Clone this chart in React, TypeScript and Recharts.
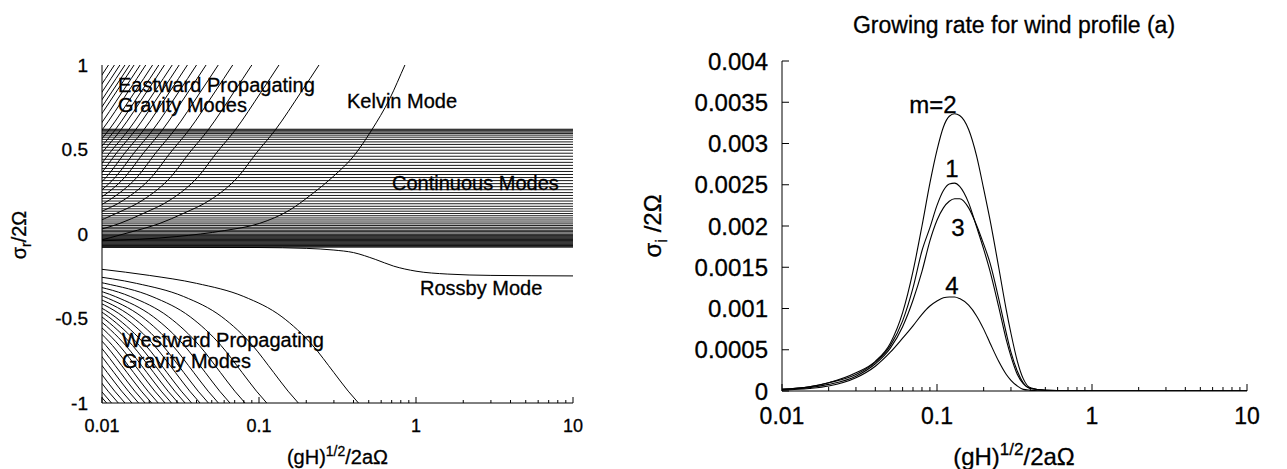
import React from 'react';
import { LineChart, Line, XAxis, YAxis } from 'recharts';

const FONT = "'Liberation Sans', Arial, Helvetica, sans-serif";

// ---------- shared log x axis ----------
const LOG_TICKS = [0.01, 0.02, 0.03, 0.04, 0.05, 0.06, 0.07, 0.08, 0.09, 0.1, 0.2, 0.3, 0.4, 0.5, 0.6, 0.7, 0.8, 0.9, 1, 2, 3, 4, 5, 6, 7, 8, 9, 10];
const LOG_MAJOR = [0.01, 0.1, 1, 10];
const LOG_LABELS = ['0.01', '0.1', '1', '10'];

// ---------- left panel: dispersion diagram ----------
const LEFT_Y_TICKS = [-1, -0.5, 0, 0.5, 1];
const LEFT_Y_LABELS = ['-1', '-0.5', '0', '0.5', '1'];

// continuous spectrum (horizontal lines), sigma_r/2Omega
const CONTINUOUS_SIGMA = [
  0.62, 0.615, 0.61, 0.603, 0.595, 0.585, 0.573, 0.56, 0.545, 0.53, 0.513, 0.496, 0.478, 0.46,
  0.442, 0.424, 0.406, 0.388, 0.37, 0.352, 0.334, 0.316, 0.298, 0.28, 0.262, 0.245, 0.228, 0.211,
  0.195, 0.179, 0.164, 0.149, 0.135, 0.121, 0.108, 0.095, 0.083, 0.071, 0.06, 0.05, 0.04, 0.031,
  0.022, 0.014, 0.006, -0.002, -0.008, -0.013, -0.018, -0.023, -0.028, -0.033, -0.038, -0.043,
  -0.048, -0.053, -0.058, -0.063, -0.068, -0.073, -0.078,
];

// eastward gravity modes: x where each curve reaches sigma = 1
const EAST_TOP_X = [0.241, 0.134, 0.09, 0.068, 0.055, 0.046, 0.04, 0.035, 0.031, 0.028, 0.025, 0.023, 0.021, 0.019, 0.0175, 0.016, 0.015, 0.014, 0.013, 0.012, 0.011];
// traced shape of the eastward curves: (x_top / x) ratio vs sigma
const EAST_SHAPE_RATIO = [0.88, 1, 1.3, 1.9, 2.5, 3.27, 4.94, 7.3, 10.3, 16, 28];
const EAST_SHAPE_SIGMA = [1.08, 1, 0.84, 0.615, 0.48, 0.339, 0.201, 0.122, 0.063, 0.01, -0.05];

// Kelvin mode
const KELVIN_X = [0.01, 0.03, 0.06, 0.101, 0.157, 0.22, 0.296, 0.4, 0.522, 0.68, 0.85, 0.95];
const KELVIN_SIGMA = [-0.04, -0.015, 0.02, 0.063, 0.142, 0.24, 0.339, 0.46, 0.615, 0.8, 1.0, 1.1];

// Rossby mode
const ROSSBY_X = [0.01, 0.1, 0.2, 0.3, 0.4, 0.55, 0.72, 1.0, 1.58, 3, 10];
const ROSSBY_SIGMA = [-0.078, -0.08, -0.085, -0.095, -0.11, -0.15, -0.19, -0.22, -0.237, -0.245, -0.248];

// westward gravity modes: traced outermost curve, and x where each curve hits sigma = -1
const WEST_SHAPE_X = [0.01, 0.02, 0.04, 0.08, 0.14, 0.22, 0.3, 0.37, 0.43, 0.5];
const WEST_SHAPE_SIGMA = [-0.209, -0.245, -0.292, -0.37, -0.49, -0.66, -0.82, -0.93, -1.0, -1.08];
const WEST_SHAPE_BOTTOM_X = 0.43;
const WEST_BOTTOM_X = [0.43, 0.178, 0.112, 0.0815, 0.0653, 0.0551, 0.0476, 0.0421, 0.0372, 0.0338, 0.0306, 0.0277, 0.0252, 0.0228, 0.0207, 0.0188, 0.0171, 0.0155, 0.014, 0.0127, 0.0115, 0.0107];

// ---------- right panel: growing rate ----------
const GROW_X = [0.01, 0.015, 0.02, 0.03, 0.04, 0.05, 0.06, 0.07, 0.08, 0.09, 0.1, 0.11, 0.12, 0.13, 0.14, 0.16, 0.18, 0.2, 0.22, 0.25, 0.28, 0.3, 0.33, 0.36, 0.4, 0.5, 1, 10];
const GROW_M1 = [0.00002, 0.00005, 0.0001, 0.0002, 0.00035, 0.00055, 0.00085, 0.00125, 0.0017, 0.00198, 0.00225, 0.00243, 0.00251, 0.00252, 0.00248, 0.00228, 0.00199, 0.00172, 0.00145, 0.00102, 0.00062, 0.00042, 0.0002, 0.00009, 0.00003, 0.00001, 0, 0];
const GROW_M2 = [0.00002, 0.00005, 0.0001, 0.00022, 0.00036, 0.00058, 0.00095, 0.00145, 0.002, 0.00252, 0.00292, 0.0032, 0.00333, 0.00336, 0.00334, 0.00317, 0.00285, 0.00245, 0.00207, 0.0015, 0.00098, 0.0007, 0.00036, 0.00015, 0.00004, 0.00001, 0, 0];
const GROW_M3 = [0.00002, 0.00004, 0.00008, 0.00018, 0.00033, 0.00052, 0.00078, 0.0011, 0.00145, 0.00182, 0.00207, 0.00222, 0.0023, 0.00233, 0.00233, 0.00222, 0.00201, 0.00178, 0.00155, 0.00112, 0.0007, 0.00047, 0.00024, 0.0001, 0.00003, 0.00001, 0, 0];
const GROW_M4 = [0.00001, 0.00003, 0.00006, 0.00016, 0.0003, 0.00047, 0.00064, 0.00079, 0.00093, 0.00103, 0.00109, 0.00113, 0.00114, 0.00114, 0.00112, 0.00104, 0.00091, 0.00075, 0.00058, 0.00036, 0.0002, 0.00013, 0.00006, 0.00002, 0.00001, 0, 0, 0];
const GROW_Y_TICKS = [0, 0.0005, 0.001, 0.0015, 0.002, 0.0025, 0.003, 0.0035, 0.004];
const GROW_Y_LABELS = ['0', '0.0005', '0.001', '0.0015', '0.002', '0.0025', '0.003', '0.0035', '0.004'];

// ---------- derived tables ----------
type Pt = { x: number; y: number };
const continuousLines: Pt[][] = CONTINUOUS_SIGMA.map((s) => [{ x: 0.01, y: s }, { x: 10, y: s }]);
const eastCurves: Pt[][] = EAST_TOP_X.map((top) =>
  EAST_SHAPE_RATIO.map((r, i) => ({ x: top / r, y: EAST_SHAPE_SIGMA[i] })).reverse()
);
const kelvinCurve: Pt[] = KELVIN_X.map((x, i) => ({ x, y: KELVIN_SIGMA[i] }));
const rossbyCurve: Pt[] = ROSSBY_X.map((x, i) => ({ x, y: ROSSBY_SIGMA[i] }));
const westCurves: Pt[][] = WEST_BOTTOM_X.map((xb) =>
  WEST_SHAPE_X.map((sx, i) => ({ x: (sx * xb) / WEST_SHAPE_BOTTOM_X, y: WEST_SHAPE_SIGMA[i] }))
);
const growData = GROW_X.map((x, i) => ({ x, m1: GROW_M1[i], m2: GROW_M2[i], m3: GROW_M3[i], m4: GROW_M4[i] }));

const TXT = { fontFamily: FONT, fill: '#000', stroke: '#000', strokeWidth: 0.3 } as const;

// ---------- tick renderers ----------
function makeXTick(side: 'bottom' | 'top', major: number, minor: number, fontSize: number, gap: number, show: boolean) {
  return (props: any) => {
    const { x, y, payload } = props;
    const idx = LOG_MAJOR.indexOf(payload.value);
    const len = idx >= 0 ? major : minor;
    const dir = side === 'bottom' ? -1 : 1;
    return (
      <g>
        <line x1={x} x2={x} y1={y} y2={y + dir * len} stroke="#000" strokeWidth={1} />
        {show && idx >= 0 && (
          <text x={x} y={y + gap} textAnchor="middle" dominantBaseline="central" fontSize={fontSize} {...TXT}>
            {LOG_LABELS[idx]}
          </text>
        )}
      </g>
    );
  };
}

function makeYTick(side: 'left' | 'right', len: number, fontSize: number, gap: number, values: number[], labels: string[] | null) {
  return (props: any) => {
    const { x, y, payload } = props;
    const idx = values.indexOf(payload.value);
    const dir = side === 'left' ? 1 : -1;
    return (
      <g>
        {len > 0 && <line x1={x} x2={x + dir * len} y1={y} y2={y} stroke="#000" strokeWidth={1} />}
        {labels && idx >= 0 && (
          <text x={x - gap} y={y} textAnchor="end" dominantBaseline="central" fontSize={fontSize} {...TXT}>
            {labels[idx]}
          </text>
        )}
      </g>
    );
  };
}

const axisLine = { stroke: '#000', strokeWidth: 1 };

function LeftChart() {
  const lineProps = {
    dataKey: 'y',
    xAxisId: 'b',
    yAxisId: 'l',
    dot: false,
    stroke: '#000',
    strokeWidth: 1,
    isAnimationActive: false,
  } as const;
  return (
    <LineChart width={600} height={469} margin={{ top: 65, right: 27, bottom: 26, left: 42 }}>
      <XAxis xAxisId="b" dataKey="x" type="number" scale="log" domain={[0.01, 10]} allowDataOverflow ticks={LOG_TICKS} interval={0}
        height={40} tickSize={0} tickMargin={0} tickLine={false} axisLine={axisLine} tick={makeXTick('bottom', 6, 3, 18, 23, true)} />
      <XAxis xAxisId="t" orientation="top" dataKey="x" type="number" scale="log" domain={[0.01, 10]} allowDataOverflow ticks={LOG_TICKS} interval={0}
        height={0} tickSize={0} tickMargin={0} tickLine={false} axisLine={axisLine} tick={makeXTick('top', 6, 3, 18, 0, false)} />
      <YAxis yAxisId="l" type="number" domain={[-1, 1]} allowDataOverflow ticks={LEFT_Y_TICKS} interval={0} width={60}
        tickSize={0} tickMargin={0} tickLine={false} axisLine={axisLine} tick={makeYTick('left', 0, 19, 14, LEFT_Y_TICKS, LEFT_Y_LABELS)} />
      <YAxis yAxisId="r" orientation="right" type="number" domain={[-1, 1]} allowDataOverflow ticks={LEFT_Y_TICKS} interval={0} width={0}
        tickSize={0} tickMargin={0} tickLine={false} axisLine={axisLine} tick={makeYTick('right', 0, 19, 0, LEFT_Y_TICKS, null)} />
      {continuousLines.map((d, i) => (
        <Line key={'c' + i} data={d} type="linear" {...lineProps} strokeWidth={0.9} />
      ))}
      {eastCurves.map((d, i) => (
        <Line key={'e' + i} data={d} type="monotone" {...lineProps} />
      ))}
      <Line key="kelvin" data={kelvinCurve} type="monotone" {...lineProps} />
      <Line key="rossby" data={rossbyCurve} type="monotone" {...lineProps} />
      {westCurves.map((d, i) => (
        <Line key={'w' + i} data={d} type="monotone" {...lineProps} />
      ))}
    </LineChart>
  );
}

function RightChart() {
  const lp = { xAxisId: 'b', yAxisId: 'l', dot: false, stroke: '#000', strokeWidth: 1.1, type: 'monotone', isAnimationActive: false } as const;
  return (
    <LineChart width={667} height={469} data={growData} margin={{ top: 61, right: 40, bottom: 38, left: 62 }}>
      <XAxis xAxisId="b" dataKey="x" type="number" scale="log" domain={[0.01, 10]} allowDataOverflow ticks={LOG_TICKS} interval={0}
        height={40} tickSize={0} tickMargin={0} tickLine={false} axisLine={axisLine} tick={makeXTick('bottom', 7, 4, 23, 25, true)} />
      <XAxis xAxisId="t" orientation="top" dataKey="x" type="number" scale="log" domain={[0.01, 10]} allowDataOverflow ticks={LOG_TICKS} interval={0}
        height={0} tickSize={0} tickMargin={0} tickLine={false} axisLine={axisLine} tick={makeXTick('top', 7, 4, 23, 0, false)} />
      <YAxis yAxisId="l" type="number" domain={[0, 0.004]} allowDataOverflow ticks={GROW_Y_TICKS} interval={0} width={100}
        tickSize={0} tickMargin={0} tickLine={false} axisLine={axisLine} tick={makeYTick('left', 7, 24, 14, GROW_Y_TICKS, GROW_Y_LABELS)} />
      <YAxis yAxisId="r" orientation="right" type="number" domain={[0, 0.004]} allowDataOverflow ticks={GROW_Y_TICKS} interval={0} width={0}
        tickSize={0} tickMargin={0} tickLine={false} axisLine={axisLine} tick={makeYTick('right', 7, 24, 0, GROW_Y_TICKS, null)} />
      <Line dataKey="m2" {...lp} />
      <Line dataKey="m1" {...lp} />
      <Line dataKey="m3" {...lp} />
      <Line dataKey="m4" {...lp} />
    </LineChart>
  );
}

function Overlay() {
  const t = TXT;
  return (
    <svg width={1287} height={469} style={{ position: 'absolute', left: 0, top: 0, pointerEvents: 'none' }}>
      {/* left panel annotations */}
      <text x={118} y={92} fontSize={20} {...t}>Eastward Propagating</text>
      <text x={118} y={112} fontSize={20} {...t}>Gravity Modes</text>
      <text x={347} y={108} fontSize={20} {...t}>Kelvin Mode</text>
      <text x={392} y={190} fontSize={20} {...t}>Continuous Modes</text>
      <text x={420} y={295} fontSize={20} {...t}>Rossby Mode</text>
      <text x={122} y={347} fontSize={20} {...t}>Westward Propagating</text>
      <text x={122} y={368} fontSize={20} {...t}>Gravity Modes</text>
      {/* left axis titles */}
      <text x={337.5} y={464} textAnchor="middle" fontSize={20} {...t}>
        (gH)<tspan dy={-8} fontSize={14}>1/2</tspan><tspan dy={8}>/2aΩ</tspan>
      </text>
      <text transform="translate(26,235) rotate(-90)" textAnchor="middle" fontSize={20} {...t}>
        σ<tspan dy={5} fontSize={14}>r</tspan><tspan dy={-5}>/2Ω</tspan>
      </text>
      {/* right panel */}
      <text x={1014} y={33} textAnchor="middle" fontSize={23} {...t}>Growing rate for wind profile (a)</text>
      <text x={1014} y={465} textAnchor="middle" fontSize={24} {...t}>
        (gH)<tspan dy={-10} fontSize={17}>1/2</tspan><tspan dy={10}>/2aΩ</tspan>
      </text>
      <text transform="translate(661,226) rotate(-90)" textAnchor="middle" fontSize={24} {...t}>
        σ<tspan dy={6} fontSize={17}>i</tspan><tspan dy={-6}> /2Ω</tspan>
      </text>
      <text x={933} y={113} textAnchor="middle" fontSize={24} {...t}>m=2</text>
      <text x={952} y={177} textAnchor="middle" fontSize={24} {...t}>1</text>
      <text x={958} y={236} textAnchor="middle" fontSize={24} {...t}>3</text>
      <text x={952} y={294} textAnchor="middle" fontSize={24} {...t}>4</text>
    </svg>
  );
}

export default function App() {
  return (
    <div style={{ position: 'absolute', left: 0, top: 0, width: 1287, height: 469, background: '#fff' }}>
      <div style={{ position: 'absolute', left: 0, top: 0 }}>
        <LeftChart />
      </div>
      <div style={{ position: 'absolute', left: 620, top: 0 }}>
        <RightChart />
      </div>
      <Overlay />
    </div>
  );
}
